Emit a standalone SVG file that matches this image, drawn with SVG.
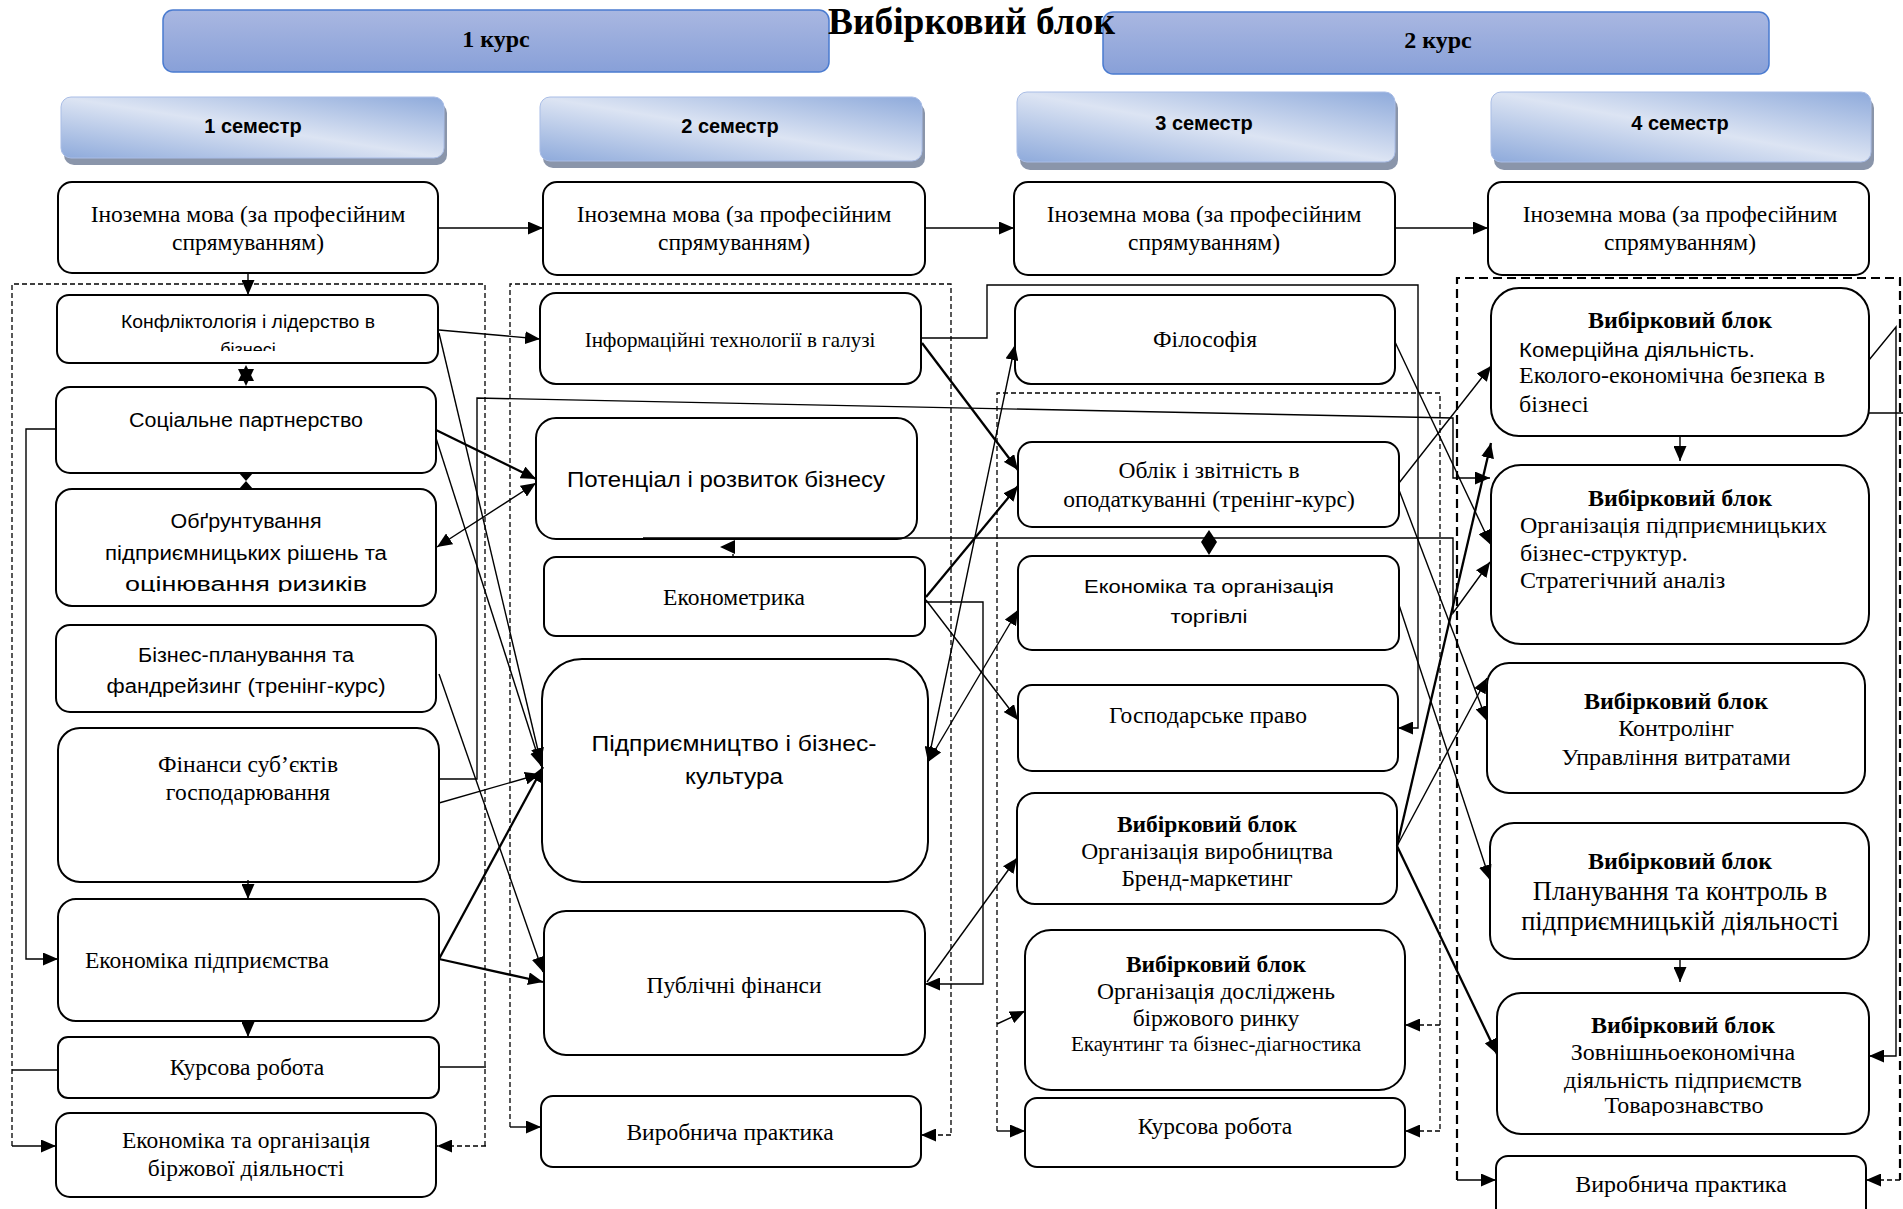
<svg xmlns="http://www.w3.org/2000/svg" width="1903" height="1209" viewBox="0 0 1903 1209">
<style>
.box{fill:#fff;stroke:#000;stroke-width:2}
.ser{font-family:"Liberation Serif","Times New Roman",serif;font-size:23.5px;fill:#000}
.ser4{font-family:"Liberation Serif","Times New Roman",serif;font-size:24px;fill:#000}
.b{font-weight:bold}
.sans{font-family:"Liberation Sans",Arial,sans-serif;fill:#000}
.m{text-anchor:middle}
.c{fill:none;stroke:#000;stroke-width:1.4}
.cb{fill:none;stroke:#000;stroke-width:2.3}
.dl{fill:none;stroke:#000;stroke-width:1.3;stroke-dasharray:5 3}
.dl4{fill:none;stroke:#000;stroke-width:2.2;stroke-dasharray:9 5}
.hk{fill:url(#gk);stroke:#4a7bd0;stroke-width:1.5}
.hs{fill:url(#gs);stroke:#a9bde6;stroke-width:1}
.sh{fill:#8a95aa}
</style>
<defs>
<linearGradient id="gk" x1="0" y1="0" x2="0" y2="1"><stop offset="0" stop-color="#a9b7e1"/><stop offset="1" stop-color="#88a0d8"/></linearGradient>
<linearGradient id="gs" x1="1" y1="0" x2="0" y2="1"><stop offset="0" stop-color="#8eaadb"/><stop offset="0.5" stop-color="#dce4f3"/><stop offset="1" stop-color="#8eaadb"/></linearGradient>
<marker id="ah" viewBox="0 0 15 13" refX="15" refY="6.5" markerWidth="15" markerHeight="13" markerUnits="userSpaceOnUse" orient="auto"><path d="M0,0 L15,6.5 L0,13 z" fill="#000"/></marker>
<marker id="ahs" viewBox="0 0 15 13" refX="15" refY="6.5" markerWidth="15" markerHeight="13" markerUnits="userSpaceOnUse" orient="auto-start-reverse"><path d="M0,0 L15,6.5 L0,13 z" fill="#000"/></marker>
<clipPath id="clKonf"><rect x="57" y="295" width="381" height="56"/></clipPath>
<clipPath id="clObg"><rect x="56" y="489" width="380" height="103"/></clipPath>
<clipPath id="clZed"><rect x="1497" y="993" width="372" height="123"/></clipPath>
</defs>
<rect width="1903" height="1209" fill="#fff"/>

<g id="headers">
<g id="h-k1"><rect class="hk" x="163" y="10" width="666" height="62" rx="10"/><text class="ser b m" x="496" y="47" style="font-size:24px">1 курс</text></g>
<g id="h-k2"><rect class="hk" x="1103" y="12" width="666" height="62" rx="10"/><text class="ser b m" x="1438" y="48" style="font-size:24px">2 курс</text></g>
<g id="h-s1"><rect class="sh" x="64" y="103" width="383" height="62" rx="10"/><rect class="hs" x="61" y="97" width="383" height="61" rx="10"/><text class="sans b m" x="253" y="133" style="font-size:20px">1 семестр</text></g>
<g id="h-s2"><rect class="sh" x="543" y="103" width="382" height="65" rx="10"/><rect class="hs" x="540" y="97" width="382" height="64" rx="10"/><text class="sans b m" x="730" y="133" style="font-size:20px">2 семестр</text></g>
<g id="h-s3"><rect class="sh" x="1020" y="98" width="378" height="72" rx="10"/><rect class="hs" x="1017" y="92" width="378" height="70" rx="10"/><text class="sans b m" x="1204" y="130" style="font-size:20px">3 семестр</text></g>
<g id="h-s4"><rect class="sh" x="1494" y="98" width="380" height="72" rx="10"/><rect class="hs" x="1491" y="92" width="380" height="70" rx="10"/><text class="sans b m" x="1680" y="130" style="font-size:20px">4 семестр</text></g>
<text id="title" class="ser b" x="828" y="34" style="font-size:38px" textLength="287" lengthAdjust="spacingAndGlyphs">Вибірковий блок</text>
</g>

<g id="frames">
<path class="dl" d="M12,1146 V284 H485 V1146"/>
<path class="dl" d="M510,1127 V284 H951 V1135"/>
<path class="dl" d="M997,1131 V393 H1440 V1131"/>
<path class="dl4" d="M1457,1180 V278 H1900 V1180"/>
</g>

<g id="nodes">
<g id="n-in1"><rect class="box" x="58" y="182" width="380" height="91" rx="14"/><text class="ser m" x="248" y="222">Іноземна мова (за професійним</text><text class="ser m" x="248" y="250">спрямуванням)</text></g>
<g id="n-konf"><rect class="box" x="57" y="295" width="381" height="68" rx="12"/><g clip-path="url(#clKonf)"><text class="sans m" x="248" y="328" style="font-size:18px" textLength="254" lengthAdjust="spacingAndGlyphs">Конфліктологія і лідерство в</text><text class="sans m" x="248" y="356" style="font-size:18px">бізнесі</text></g></g>
<g id="n-soc"><rect class="box" x="56" y="387" width="380" height="86" rx="14"/><text class="sans m" x="246" y="427" style="font-size:20px" textLength="234" lengthAdjust="spacingAndGlyphs">Соціальне партнерство</text></g>
<g id="n-obg"><rect class="box" x="56" y="489" width="380" height="117" rx="16"/><g clip-path="url(#clObg)"><text class="sans m" x="246" y="528" style="font-size:20px" textLength="151" lengthAdjust="spacingAndGlyphs">Обґрунтування</text><text class="sans m" x="246" y="560" style="font-size:20px" textLength="282" lengthAdjust="spacingAndGlyphs">підприємницьких рішень та</text><text class="sans m" x="246" y="591" style="font-size:20px" textLength="242" lengthAdjust="spacingAndGlyphs">оцінювання ризиків</text></g></g>
<g id="n-biz"><rect class="box" x="56" y="625" width="380" height="87" rx="14"/><text class="sans m" x="246" y="662" style="font-size:20px" textLength="216" lengthAdjust="spacingAndGlyphs">Бізнес-планування та</text><text class="sans m" x="246" y="693" style="font-size:20px" textLength="279" lengthAdjust="spacingAndGlyphs">фандрейзинг (тренінг-курс)</text></g>
<g id="n-fin"><rect class="box" x="58" y="728" width="381" height="154" rx="22"/><text class="ser m" x="248" y="772">Фінанси суб’єктів</text><text class="ser m" x="248" y="800">господарювання</text></g>
<g id="n-ekp"><rect class="box" x="58" y="899" width="381" height="122" rx="18"/><text class="ser" x="85" y="968">Економіка підприємства</text></g>
<g id="n-kurs1"><rect class="box" x="58" y="1037" width="381" height="61" rx="10"/><text class="ser m" x="247" y="1075">Курсова робота</text></g>
<g id="n-birzh"><rect class="box" x="56" y="1113" width="380" height="84" rx="14"/><text class="ser m" x="246" y="1148">Економіка та організація</text><text class="ser m" x="246" y="1176">біржової діяльності</text></g>

<g id="n-in2"><rect class="box" x="543" y="182" width="382" height="93" rx="14"/><text class="ser m" x="734" y="222">Іноземна мова (за професійним</text><text class="ser m" x="734" y="250">спрямуванням)</text></g>
<g id="n-it"><rect class="box" x="540" y="293" width="381" height="91" rx="16"/><text class="ser m" x="730" y="347" style="font-size:21px">Інформаційні технології в галузі</text></g>
<g id="n-pot"><rect class="box" x="536" y="418" width="381" height="121" rx="20"/><text class="sans m" x="726" y="487" style="font-size:22px" textLength="318" lengthAdjust="spacingAndGlyphs">Потенціал і розвиток бізнесу</text></g>
<g id="n-ekm"><rect class="box" x="544" y="557" width="381" height="79" rx="12"/><text class="ser m" x="734" y="605">Економетрика</text></g>
<g id="n-pidpr"><rect class="box" x="542" y="659" width="386" height="223" rx="40"/><text class="sans m" x="734" y="751" style="font-size:22px" textLength="285" lengthAdjust="spacingAndGlyphs">Підприємництво і бізнес-</text><text class="sans m" x="734" y="784" style="font-size:22px" textLength="98" lengthAdjust="spacingAndGlyphs">культура</text></g>
<g id="n-pub"><rect class="box" x="544" y="911" width="381" height="144" rx="22"/><text class="ser m" x="734" y="993">Публічні фінанси</text></g>
<g id="n-vp2"><rect class="box" x="541" y="1096" width="380" height="71" rx="12"/><text class="ser m" x="730" y="1140">Виробнича практика</text></g>

<g id="n-in3"><rect class="box" x="1014" y="182" width="381" height="93" rx="14"/><text class="ser m" x="1204" y="222">Іноземна мова (за професійним</text><text class="ser m" x="1204" y="250">спрямуванням)</text></g>
<g id="n-fil"><rect class="box" x="1015" y="295" width="380" height="89" rx="16"/><text class="ser m" x="1205" y="347">Філософія</text></g>
<g id="n-obl"><rect class="box" x="1018" y="442" width="381" height="85" rx="14"/><text class="ser m" x="1209" y="478">Облік і звітність в</text><text class="ser m" x="1209" y="507">оподаткуванні (тренінг-курс)</text></g>
<g id="n-tor"><rect class="box" x="1018" y="556" width="381" height="94" rx="14"/><text class="sans m" x="1209" y="593" style="font-size:19px" textLength="250" lengthAdjust="spacingAndGlyphs">Економіка та організація</text><text class="sans m" x="1209" y="623" style="font-size:19px" textLength="77" lengthAdjust="spacingAndGlyphs">торгівлі</text></g>
<g id="n-gosp"><rect class="box" x="1018" y="685" width="380" height="86" rx="14"/><text class="ser m" x="1208" y="723">Господарське право</text></g>
<g id="n-vyr"><rect class="box" x="1017" y="793" width="380" height="111" rx="18"/><text class="ser b m" x="1207" y="832">Вибірковий блок</text><text class="ser m" x="1207" y="859">Організація виробництва</text><text class="ser m" x="1207" y="886">Бренд-маркетинг</text></g>
<g id="n-dosl"><rect class="box" x="1025" y="930" width="380" height="160" rx="26"/><text class="ser b m" x="1216" y="972">Вибірковий блок</text><text class="ser m" x="1216" y="999">Організація досліджень</text><text class="ser m" x="1216" y="1026">біржового ринку</text><text class="ser m" x="1216" y="1051" style="font-size:21px">Екаунтинг та бізнес-діагностика</text></g>
<g id="n-kurs3"><rect class="box" x="1025" y="1098" width="380" height="69" rx="12"/><text class="ser m" x="1215" y="1134">Курсова робота</text></g>

<g id="n-in4"><rect class="box" x="1488" y="182" width="381" height="93" rx="14"/><text class="ser m" x="1680" y="222">Іноземна мова (за професійним</text><text class="ser m" x="1680" y="250">спрямуванням)</text></g>
<g id="n-kom"><rect class="box" x="1491" y="288" width="378" height="148" rx="28"/><text class="ser4 b m" x="1680" y="328">Вибірковий блок</text><text class="sans" x="1519" y="357" style="font-size:20px" textLength="236" lengthAdjust="spacingAndGlyphs">Комерційна діяльність.</text><text class="ser4" x="1519" y="383">Еколого-економічна безпека в</text><text class="ser4" x="1519" y="412">бізнесі</text></g>
<g id="n-orgp"><rect class="box" x="1491" y="465" width="378" height="179" rx="30"/><text class="ser4 b m" x="1680" y="506">Вибірковий блок</text><text class="ser4" x="1520" y="533">Організація підприємницьких</text><text class="ser4" x="1520" y="561">бізнес-структур.</text><text class="ser4" x="1520" y="588">Стратегічний аналіз</text></g>
<g id="n-kontr"><rect class="box" x="1487" y="663" width="378" height="130" rx="22"/><text class="ser4 b m" x="1676" y="709">Вибірковий блок</text><text class="ser4 m" x="1676" y="736">Контролінг</text><text class="ser4 m" x="1676" y="765">Управління витратами</text></g>
<g id="n-plan"><rect class="box" x="1490" y="823" width="379" height="136" rx="24"/><text class="ser4 b m" x="1680" y="869">Вибірковий блок</text><text class="ser4 m" x="1680" y="900" style="font-size:26.5px">Планування та контроль в</text><text class="ser4 m" x="1680" y="930" style="font-size:26.5px">підприємницькій діяльності</text></g>
<g id="n-zed"><rect class="box" x="1497" y="993" width="372" height="141" rx="24"/><text class="ser4 b m" x="1683" y="1033">Вибірковий блок</text><text class="ser4 m" x="1683" y="1060">Зовнішньоекономічна</text><text class="ser4 m" x="1683" y="1088">діяльність підприємств</text><text class="ser4 m" x="1684" y="1113" clip-path="url(#clZed)">Товарознавство</text></g>
<g id="n-vp4"><rect class="box" x="1496" y="1156" width="370" height="70" rx="12"/><text class="ser4 m" x="1681" y="1192">Виробнича практика</text></g>
</g>

<g id="connectors">
<path class="c" d="M248,273 L248,295" marker-end="url(#ah)"/>
<polygon points="246,365 254,381 238,381" fill="#000"/><polygon points="238,369 254,369 246,386" fill="#000"/>
<polygon points="239,473 253,473 246,481 253,489 239,489 246,481" fill="#000"/>
<path class="c" d="M248,880 L248,899" marker-end="url(#ah)"/>
<path class="c" d="M248,1020 L248,1037" marker-end="url(#ah)"/>
<path class="c" d="M56,429 L26,429 L26,959 L58,959" marker-end="url(#ah)"/>
<path class="c" d="M439,330 L540,339" marker-end="url(#ah)"/>
<path class="c" d="M439,333 L541,763" marker-end="url(#ah)"/>
<path class="c" d="M436,438 L541,766" marker-end="url(#ah)"/>
<path class="cb" d="M436,430 L536,479" marker-end="url(#ah)"/>
<path class="c" d="M437,547 L536,483" marker-start="url(#ahs)" marker-end="url(#ah)"/>
<path class="c" d="M439,674 L543,972" marker-end="url(#ah)"/>
<path class="c" d="M439,803 L540,774" marker-end="url(#ah)"/>
<path class="cb" d="M439,959 L543,767" marker-end="url(#ah)"/>
<path class="cb" d="M439,959 L543,982" marker-end="url(#ah)"/>
<path class="c" d="M439,779 L477,779 L477,398 L1453,418 L1453,478 L1490,478" marker-end="url(#ah)"/>
<path class="c" d="M12,1070 L58,1070 M439,1067 L486,1067"/>
<path class="c" d="M12,1146 L56,1146" marker-end="url(#ah)"/>
<path class="dl" d="M486,1146 L437,1146" marker-end="url(#ah)"/>

<path class="c" d="M438,228 L543,228" marker-end="url(#ah)"/>
<path class="c" d="M925,228 L1014,228" marker-end="url(#ah)"/>
<path class="c" d="M1395,228 L1488,228" marker-end="url(#ah)"/>
<path class="c" d="M921,338 L987,338 L987,285 L1418,285 L1418,728 L1398,728" marker-end="url(#ah)"/>
<path class="cb" d="M922,343 L1018,470" marker-end="url(#ah)"/>
<path class="cb" d="M926,597 L1018,486" marker-end="url(#ah)"/>
<path class="c" d="M926,602 L983,602 L983,984 L925,984" marker-end="url(#ah)"/>
<path class="c" d="M926,600 L1018,720" marker-end="url(#ah)"/>
<path class="c" d="M928,762 L1015,345" marker-start="url(#ahs)" marker-end="url(#ah)"/>
<path class="c" d="M928,762 L1018,610" marker-start="url(#ahs)" marker-end="url(#ah)"/>
<path class="c" d="M927,982 L1017,858" marker-end="url(#ah)"/>
<path class="c" d="M643,538 L1453,538 L1453,613 L1490,562" marker-end="url(#ah)"/>
<polygon points="720,547 735,540 735,554" fill="#000"/><path class="c" d="M733,554 L733,557"/>
<path class="c" d="M510,1127 L541,1127" marker-end="url(#ah)"/>
<path class="dl" d="M951,1135 L921,1135" marker-end="url(#ah)"/>

<path class="c" d="M1399,483 L1491,366" marker-end="url(#ah)"/>
<path class="c" d="M1399,490 L1487,721" marker-end="url(#ah)"/>
<path class="c" d="M1399,605 L1490,880" marker-end="url(#ah)"/>
<path class="c" d="M1395,342 L1491,545" marker-end="url(#ah)"/>
<path class="cb" d="M1397,846 L1491,443" marker-end="url(#ah)"/>
<path class="c" d="M1397,846 L1487,678" marker-end="url(#ah)"/>
<path class="cb" d="M1397,846 L1497,1054" marker-end="url(#ah)"/>
<polygon points="1209,530 1217,542 1209,555 1201,542" fill="#000"/>
<path class="c" d="M997,1131 L1025,1131" marker-end="url(#ah)"/>
<path class="c" d="M997,1024 L1025,1011" marker-end="url(#ah)"/>
<path class="dl" d="M1440,1025 L1405,1025" marker-end="url(#ah)"/>
<path class="dl" d="M1440,1131 L1405,1131" marker-end="url(#ah)"/>

<path class="c" d="M1680,436 L1680,461" marker-end="url(#ah)"/>
<path class="c" d="M1680,959 L1680,982" marker-end="url(#ah)"/>
<path class="c" d="M1869,360 L1896,327 L1896,1056 L1869,1056" marker-end="url(#ah)"/>
<path class="c" d="M1869,413 L1903,413"/>
<path class="c" d="M1457,1180 L1496,1180" marker-end="url(#ah)"/>
<path class="dl" d="M1900,1180 L1866,1180" marker-end="url(#ah)"/>
</g>
</svg>
